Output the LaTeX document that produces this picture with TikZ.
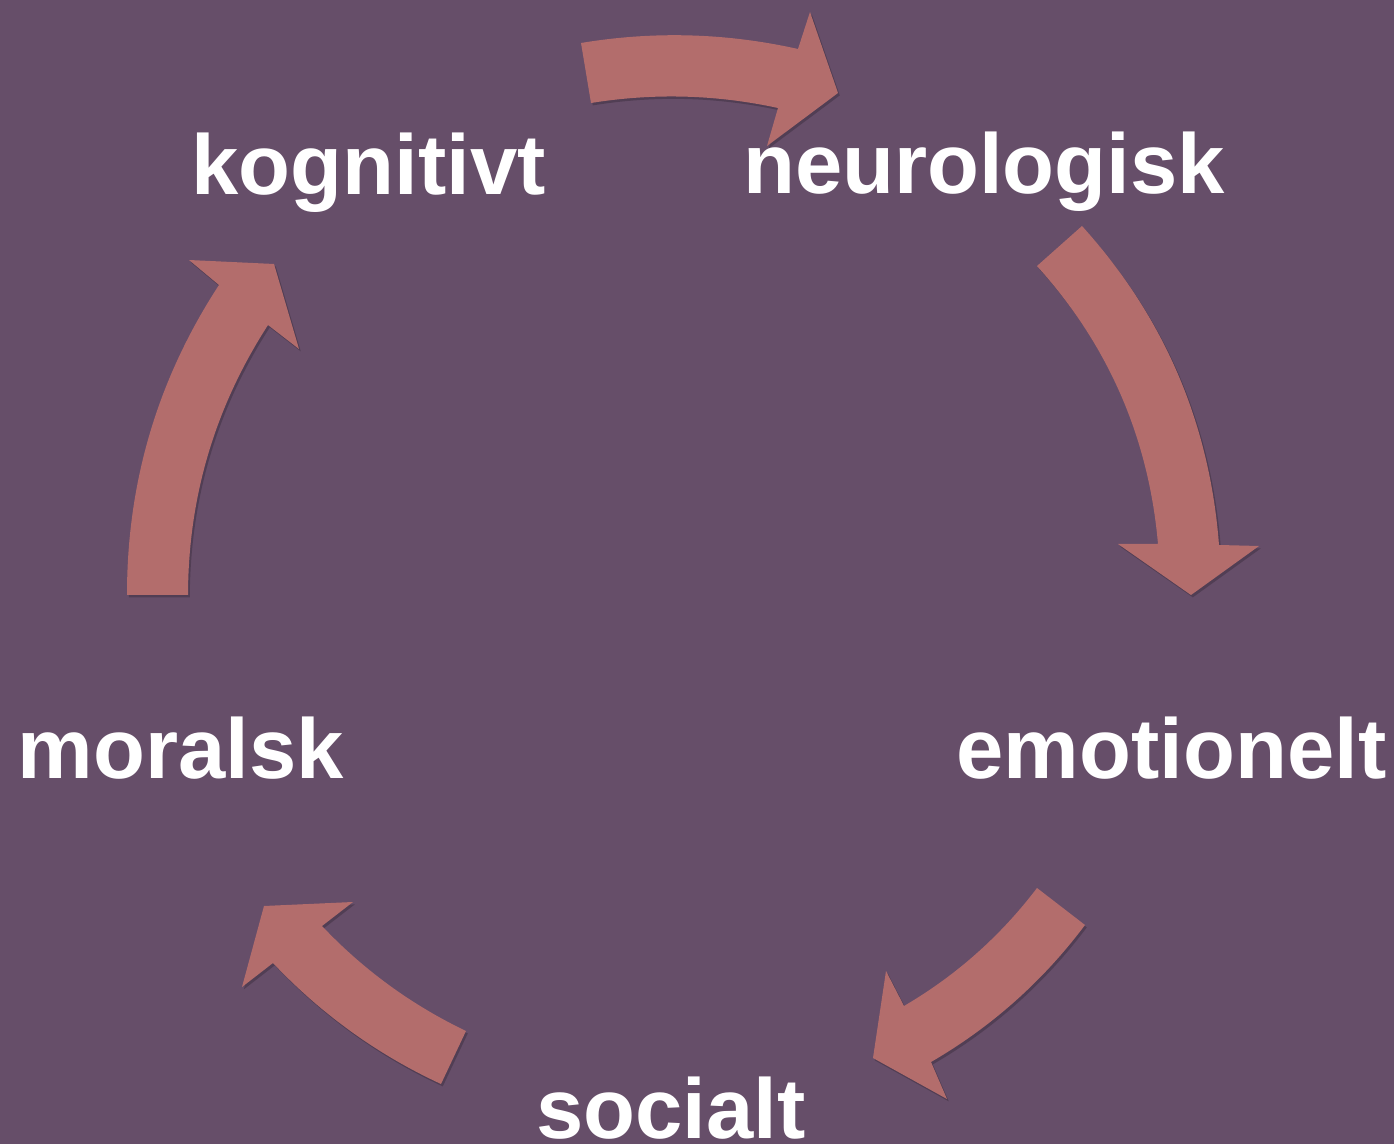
\documentclass[tikz,border=0pt]{standalone}
\usepackage{fontspec}
\setmainfont{Liberation Sans}
\usepackage{xcolor}
\usepackage{tikz}
\usetikzlibrary{shadows}
\definecolor{bg}{HTML}{664E69}
\definecolor{rose}{HTML}{B36D6C}
\definecolor{text}{HTML}{FFFFFF}
\tikzset{
  arw/.style={fill=rose, draw=none,
    drop shadow={shadow xshift=0.9pt, shadow yshift=-1.2pt, opacity=0.2, fill=black}},
  lab/.style={text=text, font=\fontsize{42.5}{51}\selectfont\bfseries, inner sep=0pt, anchor=base}
}
\begin{document}
\begin{tikzpicture}[x=0.5pt, y=-0.5pt]
  \fill[bg] (0,0) rectangle (1394,1144);
  \useasboundingbox (0,0) rectangle (1394,1144);
  \node[lab] (kog)   at (368.5,195)  {kognitivt};
  \node[lab] (neuro) at (984,194)    {neurologisk};
  \node[lab] (emo)   at (1171.5,779) {emotionelt};
  \node[lab] (soc)   at (671,1138)   {socialt};
  \node[lab] (moral) at (181,779)    {moralsk};
  \fill[arw] (581,43) .. controls (653.7,30.9) and (726,32.9) .. (798,49) -- (810,12) -- (838,93)
    -- (767,146) -- (778,108) .. controls (715.9,94.5) and (653.6,92.9) .. (591,103) -- cycle;
  \fill[arw] (1082,226) .. controls (1164,316.7) and (1209.7,423) .. (1219,545) -- (1259,546) -- (1191,595)
    -- (1118,544) -- (1158,544) .. controls (1148.7,437.8) and (1108.4,345.1) .. (1037,266) -- cycle;
  \fill[arw] (1085,925) .. controls (1042.9,981.1) and (991.6,1026.8) .. (931,1062) -- (947,1099) -- (873,1058)
    -- (886,971) -- (904,1006) .. controls (956.1,975.5) and (1000.5,936.1) .. (1037,888) -- cycle;
  \fill[arw] (441,1084) .. controls (377.3,1054.5) and (321.3,1014.1) .. (273,963) -- (242,987) -- (264,906)
    -- (353,902) -- (322,926) .. controls (363.5,969.9) and (411.5,1004.9) .. (466,1031) -- cycle;
  \fill[arw] (127,595) .. controls (126.9,482.5) and (157.5,379.2) .. (219,285) -- (189,260) -- (274,264)
    -- (299,349) -- (268,325) .. controls (215,407.2) and (188.3,496.5) .. (188,595) -- cycle;
\end{tikzpicture}
\end{document}
